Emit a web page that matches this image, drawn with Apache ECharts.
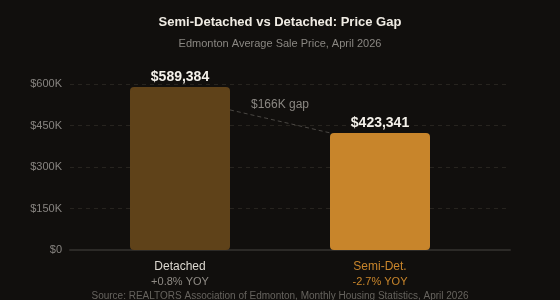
<!DOCTYPE html>
<html>
<head>
<meta charset="utf-8">
<script src="https://cdn.jsdelivr.net/npm/echarts@6/dist/echarts.min.js"></script>
<style>
  html, body { margin: 0; padding: 0; background: #110f0d; }
  #main { width: 560px; height: 300px; }
</style>
</head>
<body>
<div id="main"></div>
<script>
// data
var categories = ['Detached', 'Semi-Det.'];
var prices = [589384, 423341];
var yoy = ['+0.8% YOY', '-2.7% YOY'];
var barColors = ['#5f4219', '#c8852b'];
var yTicks = [0, 150000, 300000, 450000, 600000];

var fontFam = '"Liberation Sans", Arial, sans-serif';
var barWidth = 100;

function fmtMoney(v) {
    return '$' + v.toLocaleString('en-US');
}

var chart = echarts.init(document.getElementById('main'));
var option = {
    backgroundColor: '#110f0d',
    textStyle: { fontFamily: fontFam },
    title: [{
        text: 'Semi-Detached vs Detached: Price Gap',
        left: 'center',
        top: 11,
        textStyle: { color: '#f0ece4', fontSize: 13, fontWeight: 'bold', fontFamily: fontFam }
    }, {
        text: 'Edmonton Average Sale Price, April 2026',
        left: 'center',
        top: 33,
        textStyle: { color: '#8a8782', fontSize: 11, fontWeight: 'normal', fontFamily: fontFam }
    }, {
        text: 'Source: REALTORS Association of Edmonton, Monthly Housing Statistics, April 2026',
        left: 'center',
        top: 286,
        textStyle: { color: '#66635e', fontSize: 10, fontWeight: 'normal', fontFamily: fontFam }
    }],
    grid: [
        { left: 70, right: 50, top: 84, bottom: 50 },
        { left: 80, right: 80, top: 84, bottom: 50 }
    ],
    xAxis: [{
        type: 'category',
        gridIndex: 0,
        data: categories,
        axisLine: { show: true, lineStyle: { color: '#2c2a27', width: 2 } },
        axisTick: { show: false },
        axisLabel: { show: false }
    }, {
        type: 'category',
        gridIndex: 1,
        data: categories,
        axisLine: { show: false },
        axisTick: { show: false },
        axisLabel: {
            margin: 9,
            formatter: function (v, i) {
                return i === 0 ? '{n0|' + v + '}\n{y0|' + yoy[i] + '}'
                               : '{n1|' + v + '}\n{y1|' + yoy[i] + '}';
            },
            rich: {
                n0: { color: '#dcd8d0', fontSize: 12, lineHeight: 16, fontFamily: fontFam },
                y0: { color: '#8f8b85', fontSize: 11, lineHeight: 14, fontFamily: fontFam },
                n1: { color: '#c8852b', fontSize: 12, lineHeight: 16, fontFamily: fontFam },
                y1: { color: '#c8852b', fontSize: 11, lineHeight: 14, fontFamily: fontFam }
            }
        }
    }],
    yAxis: [{
        type: 'value',
        gridIndex: 0,
        min: yTicks[0],
        max: yTicks[yTicks.length - 1],
        interval: yTicks[1] - yTicks[0],
        axisLine: { show: false },
        axisTick: { show: false },
        axisLabel: {
            color: '#878480',
            fontSize: 11,
            margin: 8,
            formatter: function (v) { return v === 0 ? '$0' : '$' + (v / 1000) + 'K'; }
        },
        splitLine: { lineStyle: { color: '#27241f', type: [4, 4] } }
    }, {
        type: 'value',
        gridIndex: 1,
        min: yTicks[0],
        max: yTicks[yTicks.length - 1],
        interval: yTicks[1] - yTicks[0],
        show: false,
        splitLine: { show: false }
    }],
    series: [{
        type: 'bar',
        xAxisIndex: 1,
        yAxisIndex: 1,
        barWidth: barWidth,
        data: prices.map(function (v, i) {
            return { value: v, itemStyle: { color: barColors[i], borderRadius: 4 } };
        }),
        label: {
            show: true,
            position: 'top',
            distance: 3,
            color: '#f4f1ea',
            fontSize: 14,
            fontWeight: 'bold',
            fontFamily: fontFam,
            formatter: function (p) { return fmtMoney(p.value); }
        }
    }]
};
chart.setOption(option);

// gap annotation: from mid-price at the right edge of Detached to top-left of Semi-Det.
var gap = prices[0] - prices[1];
var midPrice = (prices[0] + prices[1]) / 2;
var p1 = chart.convertToPixel({ xAxisIndex: 1, yAxisIndex: 1 }, [categories[0], midPrice]);
var p2 = chart.convertToPixel({ xAxisIndex: 1, yAxisIndex: 1 }, [categories[1], prices[1]]);
var x1 = p1[0] + barWidth / 2, y1 = p1[1];
var x2 = p2[0] - barWidth / 2, y2 = p2[1];
chart.setOption({
    graphic: [{
        type: 'line',
        shape: { x1: x1, y1: y1, x2: x2, y2: y2 },
        style: { stroke: '#4a4743', lineWidth: 1, lineDash: [4, 3] },
        z: 5
    }, {
        type: 'text',
        x: (x1 + x2) / 2,
        y: (y1 + y2) / 2 - 17,
        style: {
            text: '$' + Math.round(gap / 1000) + 'K gap',
            fill: '#8a8782',
            fontSize: 12,
            fontFamily: fontFam,
            align: 'center',
            verticalAlign: 'middle'
        },
        z: 5
    }]
});
</script>
</body>
</html>
